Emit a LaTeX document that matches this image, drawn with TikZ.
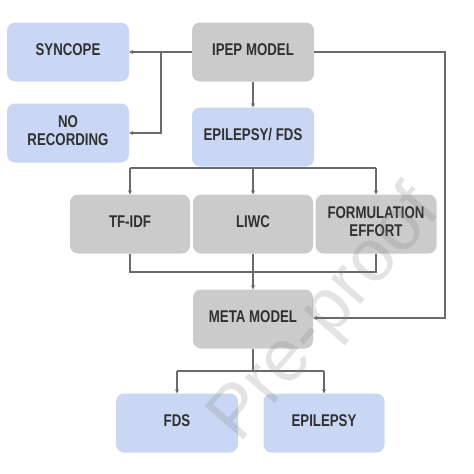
\documentclass[tikz,border=0pt]{standalone}
\usepackage{fontspec}
\usepackage{graphicx}
\setmainfont{Liberation Sans}
\usetikzlibrary{arrows.meta}
\definecolor{boxblue}{HTML}{C9D7F4}
\definecolor{boxgray}{HTML}{CBCBCB}
\definecolor{txt}{HTML}{303030}
\definecolor{ln}{HTML}{6A6A6A}
\newcommand\lbl[1]{\scalebox{0.78}[1]{\fontsize{17}{18}\selectfont\begin{tabular}{@{}c@{}}#1\end{tabular}}}
\tikzset{
  box/.style={rectangle, rounded corners=8pt, minimum width=122pt, minimum height=59pt, inner sep=0pt, text=txt, font=\bfseries},
  bluebox/.style={box, fill=boxblue},
  graybox/.style={box, fill=boxgray},
  conn/.style={draw=ln, line width=1.4pt},
  arr/.style={conn, -{Stealth[length=4pt,width=4pt]}}
}
\begin{document}
\begin{tikzpicture}[x=1pt,y=-1pt]
\useasboundingbox (0,0) rectangle (474,474);
\node[bluebox] (sync) at (68,52) {\lbl{SYNCOPE}};
\node[graybox] (ipep) at (253,52) {\lbl{IPEP MODEL}};
\node[bluebox] (norec) at (68,133) {\lbl{NO\\RECORDING}};
\node[bluebox] (epfds) at (253,137) {\lbl{EPILEPSY/ FDS}};
\node[graybox, minimum width=120pt] (tfidf) at (130,224) {\lbl{TF-IDF}};
\node[graybox, minimum width=120pt] (liwc) at (253,224) {\lbl{LIWC}};
\node[graybox, minimum width=121pt] (form) at (376,224) {\lbl{FORMULATION\\EFFORT}};
\node[graybox, minimum width=120pt] (meta) at (253,319) {\lbl{META MODEL}};
\node[bluebox] (fds) at (177,423) {\lbl{FDS}};
\node[bluebox, minimum width=121pt] (epi) at (324,423) {\lbl{EPILEPSY}};
\coordinate (j1) at (161,52);
\coordinate (r1) at (445,52);
\coordinate (r2) at (445,318);
\coordinate (h1) at (130,168);
\coordinate (h2) at (376,168);
\coordinate (hm) at (253,168);
\coordinate (b1) at (130,272);
\coordinate (b2) at (376,272);
\coordinate (bm) at (253,272);
\coordinate (c1) at (177,371);
\coordinate (c2) at (324,371);
\coordinate (cm) at (253,371);
% IPEP connections
\draw[arr] (ipep.west) -- (sync.east);
\draw[arr] (j1) |- (norec.east);
\draw[arr] (ipep.south) -- (epfds.north);
\draw[arr] (ipep.east) -- (r1) -- (r2) -- (meta.east |- r2);
% Epilepsy/FDS to features
\draw[conn] (h1) -- (h2);
\draw[arr] (h1) -- (tfidf.north);
\draw[arr] (hm) -- (liwc.north);
\draw[arr] (h2) -- (form.north);
% features to meta
\draw[conn] (tfidf.south) -- (b1) -- (b2) -- (form.south);
\draw[arr] (liwc.south) -- (meta.north);
% meta to outputs
\draw[conn] (meta.south) -- (cm);
\draw[conn] (c1) -- (c2);
\draw[arr] (c1) -- (fds.north);
\draw[arr] (c2) -- (epi.north);
% watermark
\node[text=gray, opacity=0.22, rotate=49, font=\fontsize{74}{74}\selectfont] (wm) at (326,316) {Pre-proof};
\end{tikzpicture}
\end{document}
